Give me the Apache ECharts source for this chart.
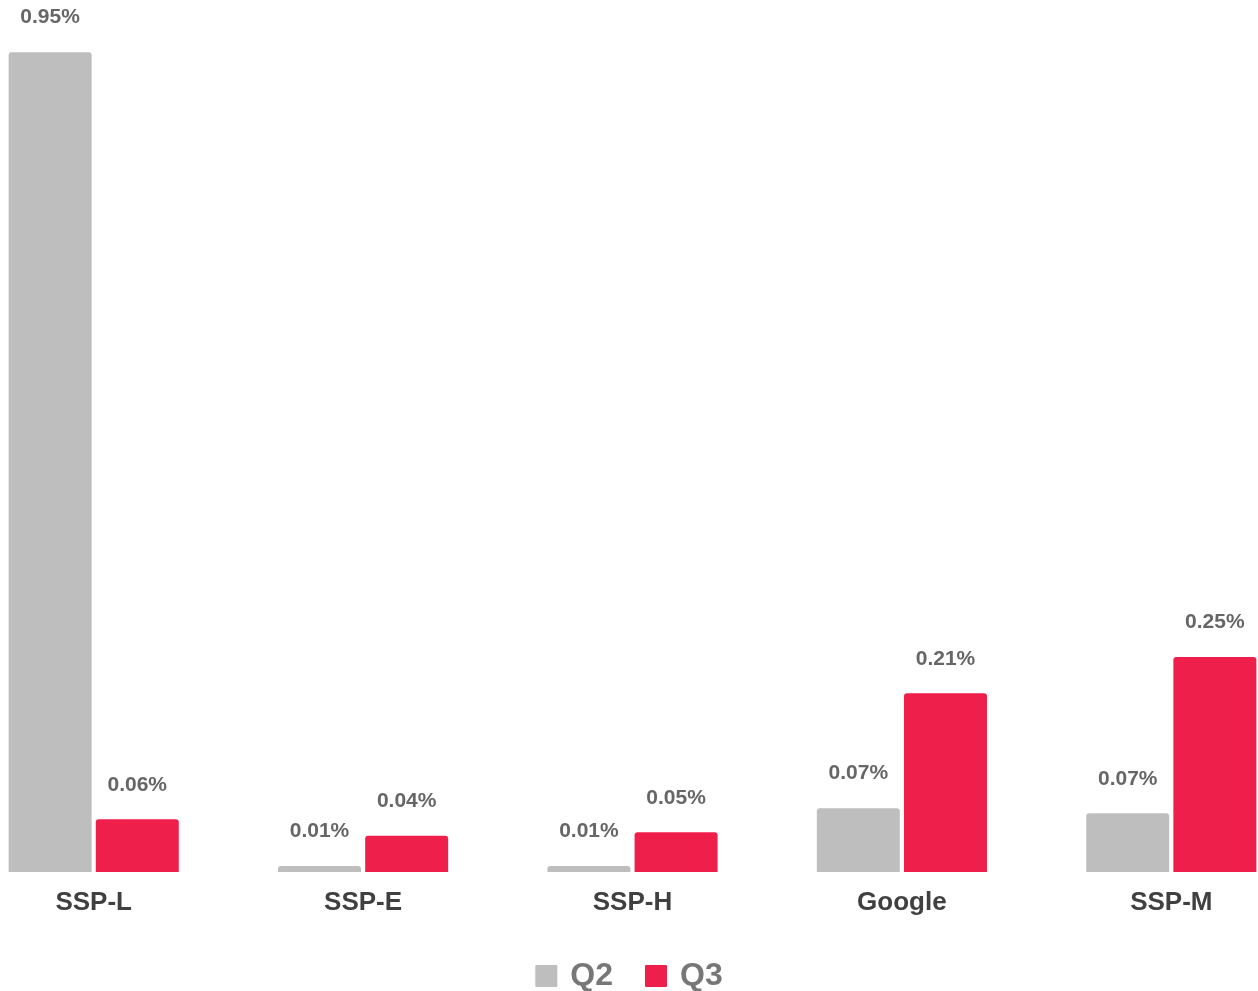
<!DOCTYPE html>
<html>
<head>
<meta charset="utf-8">
<script src="https://cdn.jsdelivr.net/npm/echarts@6/dist/echarts.min.js"></script>
<style>
  html, body { margin: 0; padding: 0; background: #fff; }
  #chart { width: 1258px; height: 991px; }
</style>
</head>
<body>
<div id="chart"></div>
<script>
  // values in percent
  const categories = ['SSP-L', 'SSP-E', 'SSP-H', 'Google', 'SSP-M'];
  const q2Values = [0.95, 0.007, 0.007, 0.074, 0.068];
  const q3Values = [0.061, 0.042, 0.046, 0.207, 0.249];

  const myChart = echarts.init(document.getElementById('chart'));

  const labelStyle = {
    show: true,
    position: 'top',
    distance: 24,
    color: '#666666',
    fontFamily: 'Liberation Sans, Arial, sans-serif',
    fontWeight: 'bold',
    fontSize: 21,
    formatter: (p) => p.value.toFixed(2) + '%'
  };

  const option = {
    animation: false,
    grid: {
      left: -41,
      right: -48,
      top: 9,
      bottom: 119,
      containLabel: false,
      outerBoundsMode: 'none'
    },
    legend: {
      top: 955,
      left: 'center',
      itemWidth: 22,
      itemHeight: 22,
      itemGap: 32,
      icon: 'path://M1,0 H21 Q22,0 22,1 V21 Q22,22 21,22 H1 Q0,22 0,21 V1 Q0,0 1,0 Z',
      textStyle: {
        color: '#777777',
        fontFamily: 'Liberation Sans, Arial, sans-serif',
        fontWeight: 'bold',
        fontSize: 32,
        padding: [0, 0, 0, 8]
      },
      data: ['Q2', 'Q3']
    },
    xAxis: {
      type: 'category',
      data: categories,
      axisLine: { show: false },
      axisTick: { show: false },
      axisLabel: {
        margin: 18,
        color: '#404040',
        fontFamily: 'Liberation Sans, Arial, sans-serif',
        fontWeight: 'bold',
        fontSize: 26
      }
    },
    yAxis: {
      type: 'value',
      min: 0,
      max: 1,
      show: false,
      splitLine: { show: false }
    },
    series: [
      {
        name: 'Q2',
        type: 'bar',
        barWidth: 83,
        barGap: '5%',
        itemStyle: { color: '#bebebe', borderRadius: [3, 3, 0, 0] },
        label: labelStyle,
        data: q2Values
      },
      {
        name: 'Q3',
        type: 'bar',
        barWidth: 83,
        barGap: '5%',
        itemStyle: { color: '#ef1f4c', borderRadius: [3, 3, 0, 0] },
        label: labelStyle,
        data: q3Values
      }
    ]
  };
  myChart.setOption(option);
</script>
</body>
</html>
